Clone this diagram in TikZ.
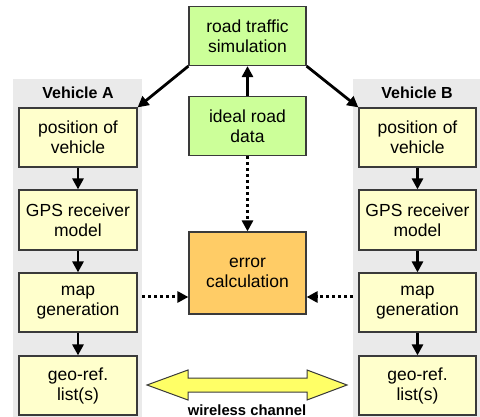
\documentclass[tikz,border=0pt]{standalone}
\usepackage{fontspec}
\setmainfont{Liberation Sans}
\usetikzlibrary{arrows.meta}
\definecolor{panelgrey}{HTML}{EAEAEA}
\definecolor{boxyellow}{HTML}{FFFFCC}
\definecolor{boxgreen}{HTML}{CCFF99}
\definecolor{boxorange}{HTML}{FFCC66}
\definecolor{arrowyellow}{HTML}{FFFF66}
\definecolor{edgegrey}{HTML}{3A3A3A}
\tikzset{
  blockbox/.style={draw=edgegrey, line width=1.2pt, minimum width=117pt,
    minimum height=59pt, align=center, inner sep=0pt,
    font=\fontsize{17.5}{20}\selectfont},
  vehbox/.style={blockbox, fill=boxyellow},
  simbox/.style={blockbox, fill=boxgreen},
  errbox/.style={blockbox, fill=boxorange, minimum height=82pt},
  panel/.style={fill=panelgrey, draw=none, inner sep=0pt},
  panellabel/.style={font=\bfseries\fontsize{16}{18}\selectfont, inner sep=0pt},
  channellabel/.style={font=\bfseries\fontsize{14.8}{16}\selectfont, inner sep=0pt},
  flow/.style={line width=2.8pt, -{Triangle[length=11pt,width=11pt]}},
  dataflow/.style={line width=3pt, dash pattern=on 3pt off 3pt,
    -{Triangle[length=11pt,width=11pt]}}
}
\begin{document}
\begin{tikzpicture}[x=1pt,y=-1pt]
\useasboundingbox (0,0) rectangle (480,417);

% vehicle panels
\node[panel, minimum width=129pt, minimum height=338pt] (panelA) at (77.5,248) {};
\node[panel, minimum width=127pt, minimum height=338pt] (panelB) at (416.5,248) {};
\node[panellabel] (labA) at (78,93) {Vehicle A};
\node[panellabel] (labB) at (417,93) {Vehicle B};

% central blocks
\node[simbox] (road) at (247.5,36) {road traffic\\simulation};
\node[simbox] (ideal) at (247.5,126) {ideal road\\data};
\node[errbox] (err) at (247.5,273) {error\\calculation};

% vehicle A chain
\node[vehbox, minimum width=118pt] (posA) at (78,137.5) {position of\\vehicle};
\node[vehbox, minimum width=118pt, minimum height=60pt] (gpsA) at (78,220) {GPS receiver\\model};
\node[vehbox, minimum width=118pt] (mapA) at (78,302.5) {map\\generation};
\node[vehbox, minimum width=118pt] (geoA) at (78,385.5) {geo-ref.\\list(s)};

% vehicle B chain
\node[vehbox] (posB) at (417.5,137.5) {position of\\vehicle};
\node[vehbox, minimum height=60pt] (gpsB) at (417.5,220) {GPS receiver\\model};
\node[vehbox] (mapB) at (417.5,302.5) {map\\generation};
\node[vehbox] (geoB) at (417.5,385.5) {geo-ref.\\list(s)};

% solid flows
\draw[flow] (ideal) -- (road);
\draw[flow] (road.south west) -- (posA.north east);
\draw[flow] (road.south east) -- (posB.north west);
\draw[flow] (posA) -- (gpsA);
\draw[flow] (gpsA) -- (mapA);
\draw[flow] (mapA) -- (geoA);
\draw[flow] (posB) -- (gpsB);
\draw[flow] (gpsB) -- (mapB);
\draw[flow] (mapB) -- (geoB);

% dotted data flows into the error calculation
\coordinate (dA) at (142,297);
\coordinate (dB) at (353,297);
\draw[dataflow] (ideal) -- (err);
\draw[dataflow] (dA) -- (dA -| err.west);
\draw[dataflow] (dB) -- (dB -| err.east);

% wireless channel double arrow
\draw[draw=edgegrey, line width=1pt, fill=arrowyellow, line join=miter]
  (147,385) -- (188,370) -- (188,378) -- (307,378) -- (307,370) -- (347,385)
  -- (307,400) -- (307,392) -- (188,392) -- (188,400) -- cycle;
\node[channellabel] (wl) at (247,410) {wireless channel};
\end{tikzpicture}
\end{document}
